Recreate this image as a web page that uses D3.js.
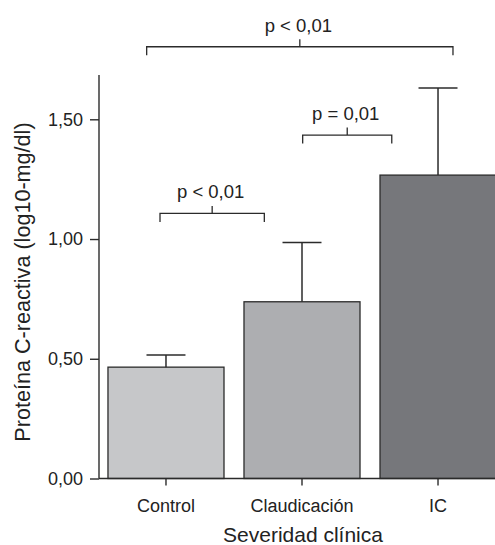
<!DOCTYPE html>
<html><head><meta charset="utf-8">
<script src="https://cdn.jsdelivr.net/npm/d3@7"></script>
<style>
html,body{margin:0;padding:0;background:#fff;}
svg{display:block;font-family:"Liberation Sans",Arial,Helvetica,sans-serif;}
</style></head>
<body><svg id="chart" width="495" height="545"></svg>
<script>
const categories = ["Control", "Claudicación", "IC"];
const means = [0.465, 0.738, 1.267];
const errorTops = [0.516, 0.986, 1.631];
const barColors = ["#c6c7c9", "#adaeb1", "#76777b"];
const yTicks = [0, 0.5, 1.0, 1.5];
const yTickLabels = ["0,00", "0,50", "1,00", "1,50"];
const yTitle = "Proteína C-reactiva (log10-mg/dl)";
const xTitle = "Severidad clínica";
// brackets: from/to in category-index units, level in data units
const brackets = [
  {from: -0.044, to: 0.723, level: 1.107, label: "p < 0,01"},
  {from: 1.005, to: 1.66, level: 1.434, label: "p = 0,01"},
  {from: -0.142, to: 2.11, level: 1.803, label: "p < 0,01"}
];

const svg = d3.select("#chart");
const ink = "#2b2b2b";

const x = d3.scaleBand().domain(categories).range([99, 505]).paddingInner(0.147).paddingOuter(0.066);
const y = d3.scaleLinear().domain([0, 1.685]).range([478.5, 75]);
const xi = d3.scaleLinear().domain([0, 1]).range([x(categories[0]) + x.bandwidth()/2, x(categories[1]) + x.bandwidth()/2]);

// bars
svg.append("g").selectAll("rect").data(categories).join("rect")
  .attr("x", d => x(d)).attr("width", x.bandwidth())
  .attr("y", (d,i) => y(means[i])).attr("height", (d,i) => y(0) - y(means[i]))
  .attr("fill", (d,i) => barColors[i]).attr("stroke", ink).attr("stroke-width", 1.3);

// error bars
const eb = svg.append("g").attr("stroke", ink).attr("stroke-width", 1.5);
categories.forEach((c,i) => {
  const cx = x(c) + x.bandwidth()/2;
  const hw = x.bandwidth()*0.168;
  eb.append("line").attr("x1", cx).attr("x2", cx).attr("y1", y(means[i])).attr("y2", y(errorTops[i]));
  eb.append("line").attr("x1", cx-hw).attr("x2", cx+hw).attr("y1", y(errorTops[i])).attr("y2", y(errorTops[i]));
});

// y axis
const yAxis = svg.append("g").attr("transform", "translate(99,0)")
  .call(d3.axisLeft(y).tickValues(yTicks).tickFormat((d,i) => yTickLabels[i]).tickSize(9).tickPadding(7));
yAxis.select(".domain").attr("d", `M0,${y(0)}V${y(1.685)}`);
yAxis.selectAll("path,line").attr("stroke", ink).attr("stroke-width", 1.4);
yAxis.selectAll("text").attr("font-size", 18).attr("fill", "#222").attr("font-family", null);

// x axis
const xAxis = svg.append("g").attr("transform", `translate(0,${y(0)})`)
  .call(d3.axisBottom(x).tickSize(7).tickPadding(14).tickSizeOuter(0));
xAxis.select(".domain").attr("d", `M99,0H495`);
xAxis.selectAll("path,line").attr("stroke", ink).attr("stroke-width", 1.4);
xAxis.selectAll("text").attr("font-size", 18).attr("fill", "#222").attr("font-family", null);

// titles
svg.append("text").attr("x", 303).attr("y", 542).attr("text-anchor", "middle")
  .attr("font-size", 21).attr("fill", "#222").text(xTitle);
svg.append("text").attr("transform", "translate(30,282) rotate(-90)").attr("text-anchor", "middle")
  .attr("font-size", 21.6).attr("fill", "#222").text(yTitle);

// brackets
const bg = svg.append("g");
brackets.forEach(b => {
  const x0 = xi(b.from), x1 = xi(b.to), yy = y(b.level), mx = (x0+x1)/2;
  bg.append("path").attr("d", `M${x0},${yy+8.5}V${yy}H${x1}V${yy+8.5}M${mx},${yy}V${yy-7.5}`)
    .attr("fill", "none").attr("stroke", ink).attr("stroke-width", 1.3);
  bg.append("text").attr("x", mx - 1.5).attr("y", yy - 15).attr("text-anchor", "middle")
    .attr("font-size", 18.5).attr("fill", "#222").text(b.label);
});
</script></body></html>
